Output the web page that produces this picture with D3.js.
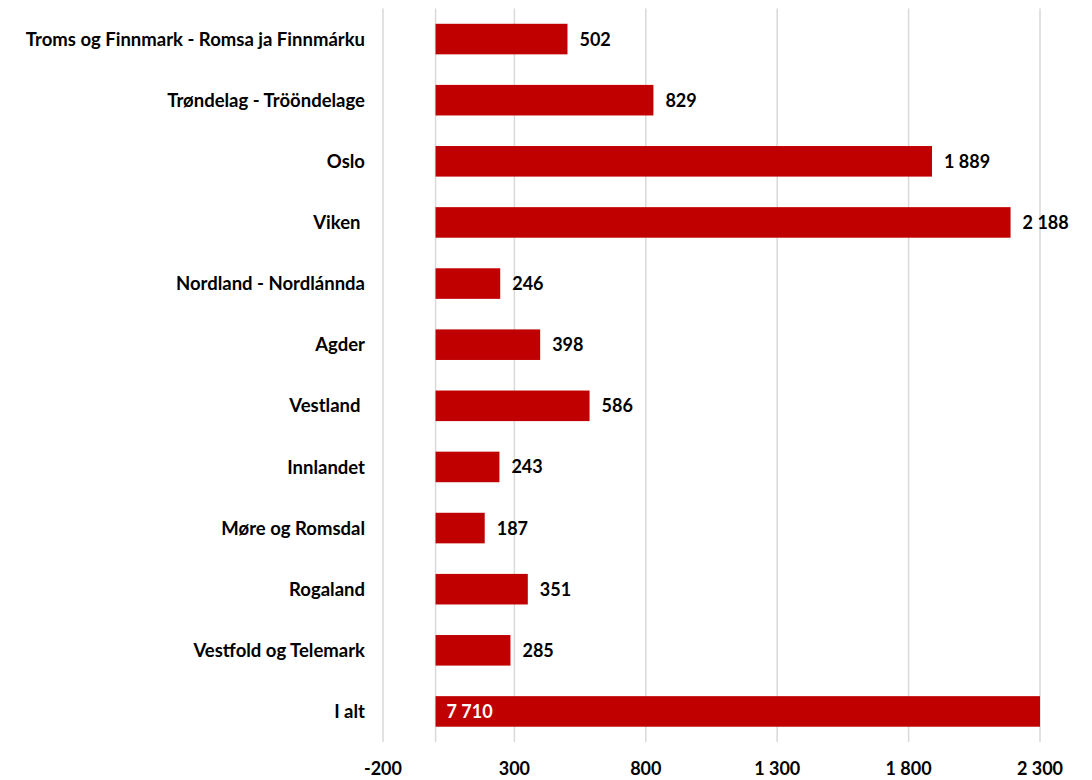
<!DOCTYPE html>
<html>
<head>
<meta charset="utf-8">
<script src="https://cdn.jsdelivr.net/npm/d3@7"></script>
<style>
  body { margin: 0; background: #fff; }
  svg text { font-family: Lato, "Open Sans", "Liberation Sans", sans-serif; font-weight: bold; fill: #000; white-space: pre; }
</style>
</head>
<body>
<svg id="chart" width="1092" height="780"></svg>
<script>
// Data
const categories = [
  "Troms og Finnmark - Romsa ja Finnmárku",
  "Trøndelag - Trööndelage",
  "Oslo",
  "Viken ",
  "Nordland - Nordlánnda",
  "Agder",
  "Vestland ",
  "Innlandet",
  "Møre og Romsdal",
  "Rogaland",
  "Vestfold og Telemark",
  "I alt"
];
const values = [502, 829, 1889, 2188, 246, 398, 586, 243, 187, 351, 285, 7710];
const tickValues = [-200, 300, 800, 1300, 1800, 2300];

// Layout
const margin = {left: 383, right: 52, top: 8.5, bottom: 38};
const width = 1092, height = 780;
const svg = d3.select("#chart");

const x = d3.scaleLinear()
  .domain([-200, 2300])
  .range([margin.left, width - margin.right]);

const y = d3.scaleBand()
  .domain(categories)
  .range([margin.top, height - margin.bottom])
  .paddingInner(0.5)
  .paddingOuter(0.25);

// number format with space separator
const fmt = d3.formatLocale({decimal: ",", thousands: " ", grouping: [3], currency: ["", ""], minus: "-"}).format(",d");

// Gridlines (plus the zero line)
svg.append("g")
  .selectAll("line")
  .data(tickValues.concat([0]))
  .enter()
  .append("line")
  .attr("x1", d => x(d)).attr("x2", d => x(d))
  .attr("y1", margin.top).attr("y2", height - margin.bottom)
  .attr("stroke", "#d9d9d9")
  .attr("stroke-width", 1.5);

// Bars, clipped at axis max
svg.append("g")
  .selectAll("rect")
  .data(values)
  .enter()
  .append("rect")
  .attr("x", x(0))
  .attr("y", (d, i) => y(categories[i]))
  .attr("width", d => x(Math.min(d, 2300)) - x(0))
  .attr("height", y.bandwidth())
  .attr("fill", "#c00000");

// Value labels
svg.append("g")
  .selectAll("text")
  .data(values)
  .enter()
  .append("text")
  .attr("x", d => d > 2300 ? x(0) + 11 : x(d) + 12)
  .attr("y", (d, i) => y(categories[i]) + y.bandwidth() / 2)
  .attr("dy", "0.36em")
  .attr("font-size", 18)
  .style("fill", d => d > 2300 ? "#fff" : "#000")
  .text(d => fmt(d));

// Category labels
svg.append("g")
  .selectAll("text")
  .data(categories)
  .enter()
  .append("text")
  .attr("x", 365)
  .attr("y", d => y(d) + y.bandwidth() / 2)
  .attr("dy", "0.36em")
  .attr("text-anchor", "end")
  .attr("font-size", 18.5)
  .text(d => d);

// X axis tick labels
svg.append("g")
  .selectAll("text")
  .data(tickValues)
  .enter()
  .append("text")
  .attr("x", d => x(d))
  .attr("y", 769)
  .attr("dy", "0.36em")
  .attr("text-anchor", "middle")
  .attr("font-size", 18)
  .text(d => fmt(d));
</script>
</body>
</html>
